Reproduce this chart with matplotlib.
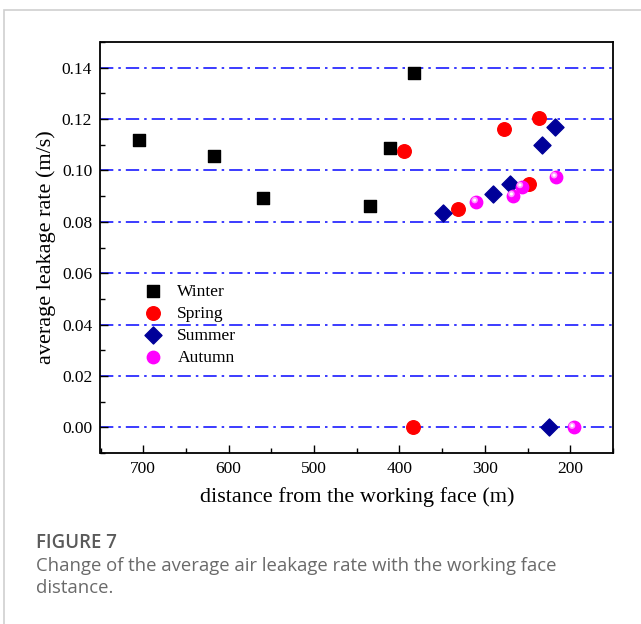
import matplotlib
matplotlib.use("Agg")
import matplotlib.pyplot as plt
from matplotlib.patches import Rectangle
from matplotlib.transforms import offset_copy
from matplotlib.ticker import MultipleLocator

# ---- data ----
winter_x = [705, 617, 560, 435, 411, 383]
winter_y = [0.1118, 0.1055, 0.0894, 0.0860, 0.1086, 0.1379]
spring_x = [395, 332, 278, 248, 237, 384]
spring_y = [0.1075, 0.0848, 0.1160, 0.0948, 0.1206, 0.0]
summer_x = [349, 291, 271, 233, 218, 225]
summer_y = [0.0834, 0.0908, 0.0948, 0.1098, 0.1170, 0.0]
autumn_x = [310, 267, 257, 217, 196]
autumn_y = [0.0878, 0.0902, 0.0937, 0.0975, 0.0]
series_labels = ["Winter", "Spring", "Summer", "Autumn"]
x_ticks = [700, 600, 500, 400, 300, 200]
y_ticks = [0.00, 0.02, 0.04, 0.06, 0.08, 0.10, 0.12, 0.14]
xlabel = "distance from the working face (m)"
ylabel = "average leakage rate (m/s)"
fig_title = "FIGURE 7"
fig_caption = "Change of the average air leakage rate with the working face\ndistance."

serif = ["Liberation Serif", "DejaVu Serif"]

fig = plt.figure(figsize=(6.41, 6.24), dpi=100)
# outer light frame
fig.patches.append(Rectangle((4 / 641, -0.05), 1.1, 1 - 10 / 624 + 0.05,
                             transform=fig.transFigure, fill=False,
                             edgecolor="#cfcfcf", linewidth=1.2))

ax = fig.add_axes([100.5 / 641, 1 - 453 / 624, (613 - 100.5) / 641, (453 - 42) / 624])
ax.set_xlim(750, 150)
ax.set_ylim(-0.01, 0.15)
ax.set_xticks(x_ticks)
ax.set_yticks(y_ticks)
ax.set_yticklabels([f"{v:.2f}" for v in y_ticks])
ax.xaxis.set_minor_locator(MultipleLocator(50))
ax.yaxis.set_minor_locator(MultipleLocator(0.01))
ax.tick_params(which="both", direction="in", top=False, right=False,
               labelsize=12.5, width=1.0, colors="black")
ax.tick_params(which="major", length=6, pad=6)
ax.tick_params(which="minor", length=3.5)
for lab in ax.get_xticklabels() + ax.get_yticklabels():
    lab.set_fontfamily(serif)
for s in ax.spines.values():
    s.set_linewidth(1.3)

for yv in y_ticks:
    ax.axhline(yv, color="#1a1aff", linewidth=1.2, linestyle=(0, (8, 3, 1.5, 3)), zorder=1)

ax.scatter(winter_x, winter_y, marker="s", s=80, color="black", zorder=3, label=series_labels[0])
ax.scatter(spring_x, spring_y, marker="o", s=95, color="#ff0000", zorder=3, label=series_labels[1])
ax.scatter(summer_x, summer_y, marker="D", s=75, color="#000099", zorder=3, label=series_labels[2])
ax.scatter(autumn_x, autumn_y, marker="o", s=80, color="#ff00ff", zorder=3, label=series_labels[3])
hl = offset_copy(ax.transData, fig=fig, x=-1.2, y=1.2, units="points")
ax.scatter(autumn_x, autumn_y, marker="o", s=22, color="#ff99ff", zorder=4, transform=hl,
           edgecolors="none")
ax.scatter(autumn_x, autumn_y, marker="o", s=5, color="white", zorder=5, transform=hl,
           edgecolors="none")

leg = ax.legend(loc="upper left", bbox_to_anchor=(0.068, 0.43), frameon=False,
                prop={"family": serif, "size": 12.6}, handletextpad=0.8,
                labelspacing=0.33, borderaxespad=0, handlelength=1.2)

ax.set_xlabel(xlabel, fontsize=16, fontfamily=serif, labelpad=7)
ax.set_ylabel(ylabel, fontsize=16, fontfamily=serif, labelpad=4)

fig.text(36 / 641, 1 - 543 / 624, fig_title, fontsize=13.4, color="#5a5a5a",
         fontfamily=["Open Sans", "DejaVu Sans"], fontweight="semibold", va="center")
fig.text(36 / 641, 1 - 577 / 624, fig_caption, fontsize=13.3, color="#6a6a6a",
         fontfamily=["Open Sans", "DejaVu Sans"], va="center", linespacing=1.35)

fig.savefig("out.png", dpi=100)
